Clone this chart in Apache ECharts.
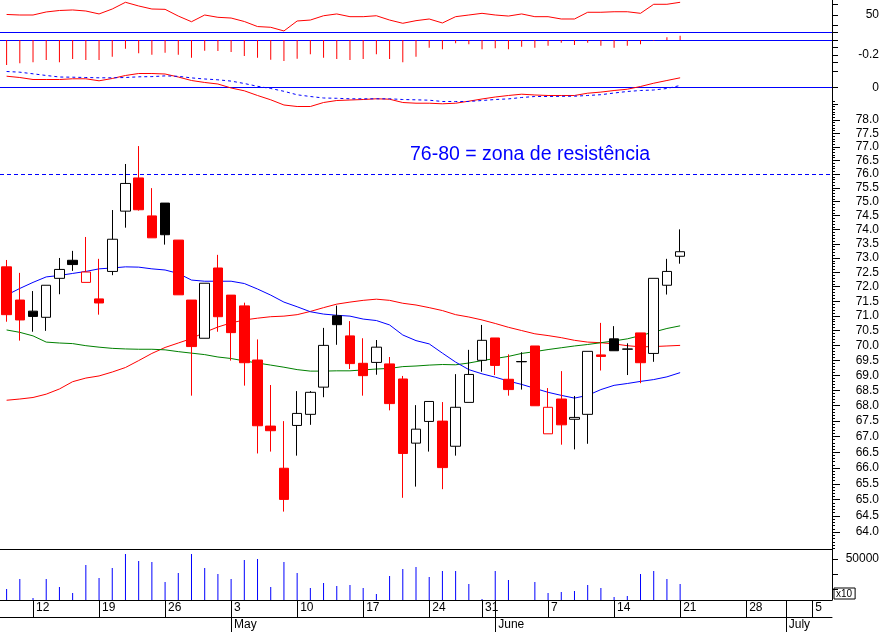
<!DOCTYPE html>
<html>
<head>
<meta charset="utf-8">
<script src="https://cdn.jsdelivr.net/npm/echarts@6/dist/echarts.min.js"></script>
<style>html,body{margin:0;padding:0;background:#fff}#c{width:883px;height:632px}</style>
</head>
<body>
<div id="c"></div>
<script>
// ---- categories (trading days, 2010) ----
const dates = ['04-08','04-09','04-12','04-13','04-14','04-15','04-16','04-19','04-20','04-21','04-22','04-23',
  '04-26','04-27','04-28','04-29','04-30','05-03','05-04','05-05','05-06','05-07','05-10','05-11','05-12','05-13','05-14',
  '05-17','05-18','05-19','05-20','05-21','05-25','05-26','05-27','05-28','05-31','06-01','06-02','06-03','06-04',
  '06-07','06-08','06-09','06-10','06-11','06-14','06-15','06-16','06-17','06-18','06-21','06-22','06-23','06-24','06-25',
  '06-28','06-29','06-30','07-01','07-02','07-05','07-06'];

// ---- price data ----
const open  = [72.69,71.54,71.16,70.95,72.29,72.92,72.15,71.58,72.53,74.66,75.86,74.49,74.95,73.63,71.54,70.24,72.65,71.71,71.34,69.51,
  67.34,65.99,67.36,67.72,68.61,71.00,70.32,69.40,69.43,69.38,68.88,66.79,67.49,67.50,66.69,68.11,69.50,70.25,68.87,69.46,
  69.98,67.09,68.22,67.56,67.72,69.68,70.22,69.87,70.42,69.73,72.05,73.06];
const close = [71.04,70.86,70.98,72.05,72.60,72.77,72.51,71.44,73.66,75.66,74.71,73.71,73.82,71.72,69.96,72.12,70.97,70.43,69.42,67.35,
  67.19,65.01,67.75,68.44,70.00,70.70,69.39,68.99,69.94,68.07,66.46,67.24,68.14,66.01,67.95,69.03,70.17,69.33,68.53,69.45,
  68.00,67.95,67.38,67.62,69.80,69.63,69.82,69.88,69.42,72.29,72.53,73.22];
const low   = [70.80,70.16,70.46,70.49,71.74,72.55,72.15,71.04,72.40,74.07,74.68,73.71,73.47,71.72,68.33,70.24,70.46,69.49,68.66,66.46,
  66.52,64.63,66.39,67.38,68.28,70.02,69.21,68.33,69.02,67.85,65.06,65.41,66.52,65.33,66.39,68.11,69.12,69.01,68.33,68.53,
  68.00,67.09,66.74,66.59,66.77,69.16,69.82,69.01,68.74,69.45,71.73,72.80];
const high  = [72.93,72.48,71.85,72.05,73.00,73.25,73.74,72.97,74.70,76.37,77.03,75.49,74.95,73.63,71.54,72.12,73.11,71.71,71.45,70.20,
  68.68,67.50,68.48,68.48,70.59,71.35,70.82,70.24,70.18,69.61,68.98,68.02,68.14,68.12,69.04,69.85,70.69,70.25,69.70,69.77,
  69.98,68.58,69.14,68.32,69.80,70.76,70.65,70.07,70.42,72.29,72.97,74.01];

// ---- moving averages ----
const maBlue  = [71.71,71.94,72.15,72.34,72.39,72.46,72.53,72.62,72.65,72.69,72.68,72.62,72.58,72.46,72.23,72.19,72.19,72.19,72.11,71.92,
  71.71,71.47,71.31,71.14,71.06,71.02,70.99,70.89,70.84,70.69,70.35,70.16,70.05,69.74,69.44,69.19,69.05,68.94,68.81,68.70,
  68.57,68.44,68.34,68.25,68.34,68.53,68.67,68.73,68.80,68.86,68.95,69.09];
const maRed   = [68.18,68.22,68.27,68.38,68.55,68.79,68.91,68.98,69.11,69.26,69.49,69.73,69.93,70.08,70.23,70.44,70.62,70.76,70.86,70.92,
  70.97,70.99,71.04,71.15,71.28,71.40,71.47,71.53,71.57,71.53,71.43,71.37,71.28,71.18,71.04,70.96,70.86,70.74,70.61,70.50,
  70.39,70.33,70.26,70.17,70.11,70.09,70.05,69.99,69.95,69.96,69.98,70.00];
const maGreen = [70.52,70.44,70.32,70.11,70.08,70.06,69.99,69.94,69.90,69.88,69.87,69.87,69.85,69.79,69.74,69.69,69.61,69.56,69.48,69.41,
  69.34,69.27,69.19,69.14,69.14,69.15,69.15,69.18,69.21,69.23,69.29,69.31,69.34,69.36,69.35,69.41,69.49,69.56,69.63,69.73,
  69.79,69.86,69.92,69.98,70.03,70.09,70.15,70.22,70.33,70.45,70.57,70.66];

// ---- volume (x10) ----
const volume = [13400,25600,2400,25600,15900,8500,42700,26800,39000,56100,47600,46400,22000,32900,56100,39000,31700,25600,48800,50000,
  15900,46400,32900,14600,20700,17100,18300,14600,7300,29300,37800,40300,28100,35400,35400,19500,1200,35400,24400,0,
  22000,8500,9800,11000,18300,14600,3700,4900,31700,35400,25600,19500];

// ---- indicators ----
const rsi = [50.5,50.0,50.0,52.9,54.3,54.8,53.8,51.0,55.7,62.1,58.6,55.7,55.4,49.0,43.6,50.0,47.8,47.1,43.8,39.0,
  38.3,34.8,44.3,45.2,49.3,51.0,48.4,48.4,49.3,45.2,42.1,44.6,46.2,42.4,48.4,50.0,51.6,50.0,49.0,51.0,
  48.4,48.4,46.2,46.2,52.6,52.6,53.1,53.1,51.6,60.2,60.2,62.1];
const hist = [-0.333,-0.311,-0.298,-0.267,-0.298,-0.253,-0.267,-0.267,-0.222,-0.116,-0.178,-0.196,-0.169,-0.196,-0.236,-0.142,-0.147,-0.160,-0.213,-0.236,
  -0.262,-0.280,-0.249,-0.191,-0.236,-0.253,-0.267,-0.253,-0.191,-0.253,-0.298,-0.222,-0.102,-0.124,-0.044,-0.058,-0.124,-0.111,-0.124,-0.089,
  -0.102,-0.076,-0.036,-0.067,-0.036,-0.076,-0.102,-0.076,-0.058,-0.009,0.036,0.058];
const macd = [0.342,0.303,0.242,0.242,0.242,0.264,0.264,0.203,0.273,0.364,0.424,0.424,0.409,0.318,0.212,0.152,0.106,-0.015,-0.100,-0.242,
  -0.373,-0.530,-0.576,-0.576,-0.455,-0.394,-0.379,-0.364,-0.342,-0.355,-0.455,-0.476,-0.476,-0.494,-0.476,-0.415,-0.348,-0.288,-0.242,-0.203,
  -0.227,-0.242,-0.242,-0.242,-0.173,-0.139,-0.091,-0.052,0.030,0.130,0.212,0.294];
const signal = [0.485,0.464,0.415,0.364,0.318,0.312,0.303,0.294,0.294,0.303,0.324,0.330,0.352,0.339,0.291,0.258,0.233,0.194,0.121,0.036,
  -0.030,-0.115,-0.221,-0.273,-0.318,-0.327,-0.342,-0.342,-0.342,-0.342,-0.364,-0.373,-0.385,-0.424,-0.424,-0.424,-0.394,-0.364,-0.345,-0.303,
  -0.273,-0.273,-0.267,-0.264,-0.242,-0.218,-0.167,-0.121,-0.091,-0.076,-0.030,0.061];

// ---- ticks / labels ----
const priceTicks = [64,64.5,65,65.5,66,66.5,67,67.5,68,68.5,69,69.5,70,70.5,71,71.5,72,72.5,73,73.5,74,74.5,75,75.5,76,76.5,77,77.5,78];
const rsiTicks = [40,50,60], rsiLabels = [50];
const histTicks = [-0.3,-0.2,-0.1,0,0.1], histLabels = [-0.2];
const macdTicks = [-0.5,0,0.5], macdLabels = [0];
const volTicks = [13400,31700,50000], volLabels = [50000];
const weekTickDates  = ['04-12','04-19','04-26','05-03','05-10','05-17','05-25','05-31','06-07','06-14','06-21','06-28','07-05'];
const weekTickLabels = ['12','19','26','3','10','17','24','31','7','14','21','28','5'];
const monthTickDates  = ['05-03','06-01','07-01'];
const monthTickLabels = ['May','June','July'];
const resistanceLevel = 76;
const annotation = '76-80 = zona de resistência';

// ---- build ----
const FONT = '"Liberation Sans", Arial, sans-serif';
const weekMap = {}; weekTickDates.forEach((d,i)=>weekMap[d]=weekTickLabels[i]);
const monthMap = {}; monthTickDates.forEach((d,i)=>monthMap[d]=monthTickLabels[i]);
const minorTicks = []; for (let k = 635; k <= 787; k++) minorTicks.push(k/10);

const RED = '#ff0000', BLACK = '#000000', BLUE = '#0000ff', GREEN = '#008000';
const candleData = open.map((o,i)=>{
  const c = close[i];
  const prev = i > 0 ? close[i-1] : o;
  const col = c >= prev ? BLACK : RED;
  const fill = c > o ? '#ffffff' : col;
  return {value:[o,c,low[i],high[i]], itemStyle:{color:fill,color0:fill,borderColor:col,borderColor0:col,borderWidth:1}};
});

const gridBase = {left:0, right:51, containLabel:false, outerBoundsMode:'none'};
const grids = [
  Object.assign({top:0, height:32}, gridBase),
  Object.assign({top:32, height:38}, gridBase),
  Object.assign({top:60, height:50}, gridBase),
  Object.assign({top:100, height:449}, gridBase),
  Object.assign({top:549, height:51}, gridBase)
];
function hiddenX(gi, extra){
  return Object.assign({type:'category', gridIndex:gi, data:dates, boundaryGap:true,
    axisTick:{show:false}, axisLabel:{show:false}, splitLine:{show:false}}, extra);
}
const xAxes = [
  hiddenX(0,{position:'bottom', axisLine:{show:true,onZero:false,lineStyle:{color:BLUE,width:1}}}),
  hiddenX(1,{axisLine:{show:true,onZero:true,lineStyle:{color:BLUE,width:1}}}),
  hiddenX(2,{axisLine:{show:true,onZero:true,lineStyle:{color:BLUE,width:1}}}),
  hiddenX(3,{position:'bottom', axisLine:{show:true,onZero:false,lineStyle:{color:BLACK,width:1}}}),
  {type:'category', gridIndex:4, data:dates, boundaryGap:true, position:'bottom',
    axisLine:{show:true,onZero:false,lineStyle:{color:BLACK,width:1}},
    axisTick:{show:true, alignWithLabel:true, length:17, lineStyle:{color:BLACK,width:1},
      interval:(i,v)=>(weekMap[v]!==undefined || monthMap[v]!==undefined)},
    axisLabel:{show:true, interval:(i,v)=>weekMap[v]!==undefined, formatter:(v)=>weekMap[v]||'',
      align:'left', verticalAlign:'top', margin:2, padding:[0,0,0,3], color:BLACK, fontSize:12, fontFamily:FONT},
    splitLine:{show:false}},
  {type:'category', gridIndex:4, data:dates, boundaryGap:true, position:'bottom', offset:17,
    axisLine:{show:true,onZero:false,lineStyle:{color:BLACK,width:1}},
    axisTick:{show:true, alignWithLabel:true, length:15, lineStyle:{color:BLACK,width:1},
      interval:(i,v)=>monthMap[v]!==undefined},
    axisLabel:{show:true, interval:(i,v)=>monthMap[v]!==undefined, formatter:(v)=>monthMap[v]||'',
      align:'left', verticalAlign:'top', margin:2, padding:[0,0,0,3], color:BLACK, fontSize:12, fontFamily:FONT},
    splitLine:{show:false}}
];
function rightY(gi, extra, ticks, labels, fmt, tickLen){
  return Object.assign({gridIndex:gi, position:'right', type:'value',
    axisLine:{show:true,onZero:false,lineStyle:{color:BLACK,width:1}},
    axisTick:{show:true, customValues:ticks, length:tickLen||6, lineStyle:{color:BLACK,width:1}},
    axisLabel:{show:labels.length>0, customValues:labels, formatter:fmt, align:'right', margin:47,
      color:BLACK, fontSize:12, fontFamily:FONT},
    splitLine:{show:false}}, extra);
}
const yAxes = [
  rightY(0,{min:33.81,max:64.286}, rsiTicks, rsiLabels, v=>String(v)),
  rightY(1,{min:-0.4,max:0.10667}, histTicks, histLabels, v=>Number(v).toFixed(1)),
  rightY(2,{min:-0.6818,max:0.8333}, macdTicks, macdLabels, v=>String(v)),
  rightY(3,{type:'log',logBase:10,min:63.48,max:78.753}, priceTicks, priceTicks, v=>Number(v).toFixed(1), 8),
  rightY(3,{type:'log',logBase:10,min:63.48,max:78.753, axisLine:{show:false}}, minorTicks, [], v=>'', 3),
  rightY(4,{min:0,max:62195}, volTicks, volLabels, v=>String(v))
];

const lineBase = {type:'line', showSymbol:false, symbol:'none', silent:true, animation:false};
const option = {
  animation:false,
  backgroundColor:'#ffffff',
  grid:grids,
  xAxis:xAxes,
  yAxis:yAxes,
  series:[
    Object.assign({name:'RSI', xAxisIndex:0, yAxisIndex:0, data:rsi, lineStyle:{color:RED,width:1}}, lineBase),
    {name:'Hist', type:'bar', xAxisIndex:1, yAxisIndex:1, data:hist, barWidth:1, itemStyle:{color:RED}, silent:true, animation:false},
    Object.assign({name:'MACD', xAxisIndex:2, yAxisIndex:2, data:macd, z:3, lineStyle:{color:RED,width:1}}, lineBase),
    Object.assign({name:'Signal', xAxisIndex:2, yAxisIndex:2, data:signal, z:3, lineStyle:{color:BLUE,width:1,type:[3,3]}}, lineBase),
    Object.assign({name:'MA red', xAxisIndex:3, yAxisIndex:3, data:maRed, z:1, lineStyle:{color:RED,width:1}}, lineBase),
    Object.assign({name:'MA green', xAxisIndex:3, yAxisIndex:3, data:maGreen, z:1, lineStyle:{color:GREEN,width:1}}, lineBase),
    Object.assign({name:'MA blue', xAxisIndex:3, yAxisIndex:3, data:maBlue, z:1, lineStyle:{color:BLUE,width:1}}, lineBase),
    {name:'Price', type:'candlestick', xAxisIndex:3, yAxisIndex:3, data:candleData, barWidth:10, z:3, silent:true, animation:false,
      markLine:{silent:true, symbol:['none','none'], label:{show:false}, animation:false,
        lineStyle:{color:BLUE,width:1,type:[4,3]}, data:[{yAxis:resistanceLevel}]}},
    {name:'Volume', type:'bar', xAxisIndex:4, yAxisIndex:5, data:volume, barWidth:1, itemStyle:{color:BLUE}, silent:true, animation:false}
  ],
  graphic:[
    {type:'text', x:410, y:155, silent:true, style:{text:annotation, fill:BLUE, font:'19.5px '+FONT, verticalAlign:'middle', align:'left'}},
    {type:'text', x:834, y:588, silent:true, style:{text:'x10', fill:BLACK, font:'10px '+FONT, borderColor:BLACK, borderWidth:1, padding:[1,3,0,2]}}
  ]
};
const chart = echarts.init(document.getElementById('c'), null, {renderer:'canvas', width:883, height:632});
chart.setOption(option);
</script>
</body>
</html>
